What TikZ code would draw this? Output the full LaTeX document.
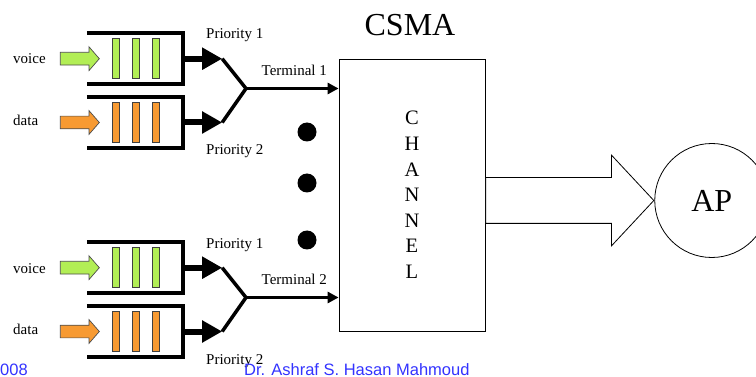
\documentclass[tikz,border=0pt]{standalone}
\usepackage{fontspec}
\setmainfont{Liberation Serif}
\setsansfont{Liberation Sans}
\usetikzlibrary{shapes.arrows, arrows.meta, calc, positioning}
\definecolor{vgreen}{HTML}{B2EE55}
\definecolor{dorange}{HTML}{F79A32}
\definecolor{footblue}{HTML}{3333FF}
\tikzset{
  % coda di un terminale
  queue/.style={minimum width=96pt, minimum height=50pt, inner sep=0pt},
  qwall/.style={line width=4pt, line join=miter},
  bar/.style={draw=black!75, line width=0.7pt, minimum width=7pt, minimum height=40pt,
    inner sep=0pt},
  % frecce di ingresso e di uscita
  inarrow/.style={single arrow, draw=black!70, line width=0.7pt, inner xsep=0pt,
    inner ysep=6pt, minimum height=39pt, single arrow head extend=5.5pt,
    single arrow tip angle=98},
  outarrow/.style={line width=6pt, -{Triangle[length=20pt, width=21pt]}},
  fork/.style={line width=3.5pt, line join=miter},
  termarrow/.style={line width=3pt, -{Triangle[length=11pt, width=11pt]}},
  % etichette
  lbl/.style={inner sep=0pt, font=\fontsize{15}{18}\selectfont},
  big/.style={font=\fontsize{32}{38}\selectfont},
  foot/.style={inner sep=0pt, text=footblue, font=\sffamily\fontsize{16.5}{19}\selectfont},
  % canale e AP
  chbox/.style={draw, line width=0.8pt, minimum width=146pt, minimum height=272pt,
    align=center, font=\fontsize{20.5}{25.6}\selectfont},
  dot/.style={circle, fill=black, minimum size=19pt, inner sep=0pt},
  bigarrow/.style={single arrow, draw, line width=0.8pt, fill=white, inner xsep=0pt,
    inner ysep=22.5pt, minimum height=168pt, single arrow head extend=22.5pt,
    single arrow tip angle=94},
  apnode/.style={circle, draw, line width=0.8pt, minimum size=114pt, inner sep=0pt,
    font=\fontsize{32}{38}\selectfont},
}
\begin{document}
\begin{tikzpicture}[x=1pt, y=-1pt]
  \useasboundingbox (0,0) rectangle (756,377);
  % canale
  \node[chbox] (box) at (412,195) {C\\H\\A\\N\\N\\E\\L};
  \node[big] (csma) at (410,25) {CSMA};
  \foreach \k/\yy in {1/132, 2/183, 3/240} \node[dot] (dot\k) at (307,\yy) {};
  % verso l'AP
  \node[bigarrow, anchor=tail] (toap) at ([yshift=-5.5pt]box.east) {};
  \node[apnode, anchor=west] (ap) at (toap.tip) {AP};
  % terminali
  \foreach \t/\dy in {1/0, 2/209} {
    \node[queue] (qv\t) at (135,58.7+\dy) {};
    \node[queue] (qd\t) at (135,122.5+\dy) {};
    \draw[qwall] (qv\t.north west) -- (qv\t.north east) -- (qv\t.south east) -- (qv\t.south west);
    \draw[qwall] (qd\t.north west) -- (qd\t.north east) -- (qd\t.south east) -- (qd\t.south west);
    \foreach \k in {0,1,2} {
      \node[bar, fill=vgreen] (bv\t\k) at ([xshift=29.5pt+\k*19.7pt]qv\t.west) {};
      \node[bar, fill=dorange] (bd\t\k) at ([xshift=29.5pt+\k*19.7pt]qd\t.west) {};
    }
    \node[inarrow, fill=vgreen, anchor=tip] (iv\t) at ([xshift=13pt]qv\t.west) {};
    \node[inarrow, fill=dorange, anchor=tip] (id\t) at ([xshift=13pt]qd\t.west) {};
    \coordinate (pv\t) at ([xshift=39pt]qv\t.east);
    \coordinate (pd\t) at ([xshift=39pt]qd\t.east);
    \coordinate (j\t) at (246,88.5+\dy);
    \draw[outarrow] (qv\t.east) -- (pv\t);
    \draw[outarrow] (qd\t.east) -- (pd\t);
    \draw[fork] (pv\t) -- (j\t) -- (pd\t);
    \draw[termarrow] (j\t) -- (j\t -| box.west);
    \node[lbl, anchor=base west] (lv\t) at (13,64+\dy) {voice};
    \node[lbl, anchor=base west] (ld\t) at (13,125.5+\dy) {data};
    \node[lbl, anchor=base west] (pa\t) at (206,39+\dy) {Priority 1};
    \node[lbl, anchor=base west] (pb\t) at (206,155+\dy) {Priority 2};
    \node[lbl, anchor=base west] (tl\t) at (261.5,75.5+\dy) {Terminal \t};
  }
  % pie' di pagina
  \node[foot, anchor=base west] (yr) at (0,375.5) {008};
  \node[foot, anchor=base west] (auth) at (244,375.5) {Dr. Ashraf S. Hasan Mahmoud};
\end{tikzpicture}
\end{document}
